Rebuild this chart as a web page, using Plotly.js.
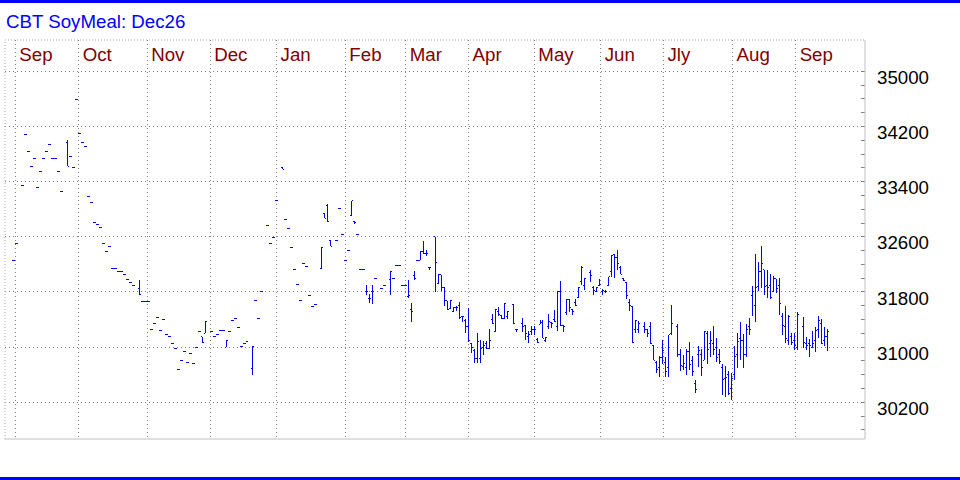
<!DOCTYPE html>
<html>
<head>
<meta charset="utf-8">
<script src="https://cdn.plot.ly/plotly-3.0.1.min.js"></script>
<style>html,body{margin:0;padding:0;background:#fff;}#chart{width:960px;height:480px;}
.ohlc path{shape-rendering:crispEdges;}</style>
</head>
<body>
<div id="chart"></div>
<script>
// x = weekday slot index (0 = first slot of Sep 2025)
const monthLabels = ["Sep","Oct","Nov","Dec","Jan","Feb","Mar","Apr","May","Jun","Jly","Aug","Sep"];
const monthPos = [-0.5, 20.7, 43.6, 64.7, 86.9, 109.9, 130.1, 151.1, 173.1, 195.3, 216.3, 239.4, 260.5];

// single-price days (open = high = low = close)
const dashDay = [
  -1,0,2,3,4,5,6,7,8,9,
  10,11,12,13,14,15,18,19,20,21,
  22,23,24,25,26,27,28,29,30,31,
  32,33,34,35,36,37,38,39,42,43,
  44,45,46,47,48,49,50,51,52,53,
  54,55,56,57,58,59,60,61,65,66,
  67,68,69,71,72,73,74,75,76,77,
  80,81,82,84,85,86,87,90,91,92,
  93,94,95,96,97,98,99,100,107,108,
  109,110,111,114,115,116,120,122,123,126,
  127,128,129,130,134];
const dashPrice = [
  32260,32500,33350,34090,33830,33620,33730,33310,33540,33730,
  33830,33940,33730,33730,33540,33250,33770,33600,34590,34100,
  33970,33910,33180,33100,32810,32780,32740,32510,32380,32460,
  32140,32140,32090,32090,32060,31980,31940,31900,31660,31660,
  31660,31260,31350,31430,31240,31400,31190,31160,31050,30980,
  30670,30800,30930,30780,30910,30770,30990,31230,31220,31160,
  31190,31240,31240,31220,31380,31410,31280,31010,31060,31080,
  31680,31420,31810,32770,32510,32590,33120,32850,32720,32450,
  32130,31910,31670,32220,32170,31750,31590,31620,32540,33010,
  32640,32250,32400,32640,32120,32120,32000,31850,31890,32000,
  32190,32190,31890,31890,32250];

// days with a trading range
const barDay = [
  17,41,62,63,70,79,89,102,103,104,
  105,112,113,117,118,119,125,131,132,133,
  135,136,137,138,140,141,142,143,144,145,
  146,147,148,149,150,151,152,153,154,155,
  156,157,158,159,160,161,162,163,164,166,
  167,169,170,171,172,173,174,175,176,177,
  178,179,180,181,182,183,184,185,186,187,
  188,189,190,192,193,194,195,196,197,198,
  199,200,201,202,203,204,205,206,207,208,
  210,211,212,213,214,215,216,217,218,219,
  221,222,223,224,225,226,227,228,229,230,
  231,232,233,234,235,236,237,238,239,240,
  241,242,243,244,245,246,247,248,249,250,
  251,252,253,254,255,256,257,258,259,260,
  261,263,264,265,266,267,268,269,270,271];
const barOpen = [
  33970,31850,31150,31200,31000,30690,33600,32140,32940,33050,
  32540,32910,32820,31810,31700,31800,31980,31740,31550,32040,
  32260,32380,32360,32150,32600,31920,32050,31870,31670,31560,
  31510,31580,31600,31440,31390,31300,31060,30950,30840,30840,
  30990,31060,30980,31400,31220,31520,31460,31410,31450,31620,
  31250,31340,31320,31150,31220,31250,31110,31330,31380,31100,
  31300,31360,31400,31300,31800,31310,31500,31690,31540,31650,
  31720,31950,31900,32080,31870,31810,31900,31800,31800,31900,
  32100,32350,32300,32150,31990,31940,31650,31590,31250,31250,
  31300,31260,31300,31020,30780,30700,30850,30780,30700,31200,
  31300,30900,30720,30700,30940,30800,30480,30890,30900,30810,
  31200,31050,31050,31000,30900,30700,30550,30600,30400,30600,
  30900,31120,31100,30900,31300,31750,31600,31880,32100,32120,
  31900,31900,31800,31990,31900,31450,31300,31100,31150,31100,
  31000,31300,31050,31050,31000,31100,31250,31350,31100,31150];
const barHigh = [
  34000,31970,31150,31370,31090,31010,33600,32450,32940,33080,
  32540,33120,32830,31900,31770,31900,32100,31970,31640,32110,
  32380,32540,32410,32150,32600,32060,32050,31870,31670,31680,
  31580,31600,31650,31440,31410,31570,31060,30980,31210,31100,
  31090,31090,31270,31480,31540,31580,31460,31640,31510,31620,
  31250,31420,31320,31230,31300,31300,31130,31400,31380,31140,
  31480,31370,31540,31810,31960,31310,31700,31690,31540,31700,
  31870,32170,32000,32120,31890,31870,31990,31840,31830,32020,
  32340,32350,32410,32170,31990,31940,31700,31590,31400,31380,
  31360,31260,31360,31020,30800,30870,31110,30860,31180,31610,
  31340,30970,30890,30980,31080,30870,30520,31020,30980,31230,
  31230,31240,31310,31130,30980,30760,30730,30650,30630,31010,
  31200,31360,31190,31330,31420,31880,32350,32240,32460,32120,
  32120,32060,32030,31990,32010,31500,31590,31470,31200,31200,
  31510,31430,31140,31120,31240,31290,31450,31410,31290,31270];
const barLow = [
  33620,31770,31060,31200,31000,30600,33580,32140,32870,32820,
  32460,32910,32790,31760,31640,31620,31760,31710,31370,31980,
  32260,32360,32320,32120,31800,31920,31810,31590,31540,31560,
  31510,31520,31410,31370,31200,31080,30910,30770,30770,30770,
  30890,30980,30980,31340,31220,31450,31410,31410,31410,31340,
  31220,31220,31110,31060,31180,31180,31060,31330,31130,31070,
  31270,31280,31360,31240,31310,31220,31470,31510,31470,31590,
  31710,31900,31830,31950,31760,31810,31880,31760,31780,31900,
  32020,32010,32120,32060,31960,31700,31520,31060,31200,31200,
  31210,31140,31050,30810,30630,30560,30760,30570,30570,31180,
  30860,30660,30670,30600,30670,30580,30340,30710,30580,30810,
  30760,30860,30890,30790,30760,30300,30270,30300,30230,30520,
  30700,30820,30700,30850,31180,31450,31360,31810,31860,31760,
  31710,31700,31800,31790,31460,31180,31060,31030,31030,30960,
  30960,30990,30960,30850,30990,30930,31130,31060,31020,30950];
const barClose = [
  33620,31770,31070,31370,31090,31010,33580,32450,32870,32820,
  32460,33120,32810,31810,31700,31800,32100,31750,31510,32000,
  32380,32360,32360,32150,32230,32060,31870,31670,31540,31680,
  31580,31580,31430,31440,31300,31100,30990,30840,31080,30980,
  31020,30980,31090,31340,31540,31470,31410,31640,31510,31340,
  31250,31300,31200,31180,31250,31250,31070,31360,31130,31140,
  31370,31350,31370,31800,31320,31300,31690,31570,31520,31600,
  31860,32160,32000,32040,31820,31870,31910,31820,31800,32020,
  32330,32300,32220,32060,31970,31750,31610,31070,31380,31350,
  31260,31200,31050,30810,30680,30850,30950,30650,31180,31340,
  30900,30740,30760,30940,30750,30650,30390,30950,30710,31230,
  30960,31100,30960,30850,30790,30530,30560,30330,30550,30870,
  31080,31100,30890,31260,31250,31800,31870,32100,32210,31880,
  31860,31720,31990,31850,31640,31320,31120,31450,31070,31030,
  31480,31070,31030,31030,31060,31240,31380,31060,31160,31220];

const priceTickStart = 30200, priceTickStep = 800;

const FONT = "'Liberation Sans', Arial, sans-serif";
const BLUE = '#0000ff';
const barStyle = {line: {color: BLUE, width: 1}};

const traces = [
  {type: 'ohlc', x: dashDay, open: dashPrice, high: dashPrice, low: dashPrice, close: dashPrice,
   increasing: barStyle, decreasing: barStyle, tickwidth: 0.5, hoverinfo: 'skip', showlegend: false},
  {type: 'ohlc', x: barDay, open: barOpen, high: barHigh, low: barLow, close: barClose,
   increasing: barStyle, decreasing: barStyle, tickwidth: 0.5, hoverinfo: 'skip', showlegend: false}
];

const layout = {
  width: 960, height: 480,
  paper_bgcolor: '#ffffff', plot_bgcolor: '#ffffff',
  margin: {l: 5, r: 95, t: 40, b: 41, pad: 0},
  showlegend: false,
  title: {text: 'CBT SoyMeal: Dec26', font: {family: FONT, size: 18.7, color: BLUE},
          x: 6/960, xref: 'container', xanchor: 'left', y: 1 - 21/480, yref: 'container', yanchor: 'middle'},
  xaxis: {
    type: 'linear', range: [-3.94, 283.7], side: 'top', fixedrange: true,
    tickmode: 'array', tickvals: monthPos, ticktext: monthLabels,
    ticks: '', ticklabelposition: 'inside right', ticklabelshift: 4, ticklabelstandoff: 2,
    tickfont: {family: FONT, size: 18.7, color: '#800000'},
    showgrid: true, gridcolor: '#808080', gridwidth: 1, griddash: '1px,3px',
    zeroline: false, showline: false,
    rangeslider: {visible: false}
  },
  yaxis: {
    side: 'right', range: [29668, 35454], fixedrange: true,
    tickmode: 'linear', tick0: priceTickStart, dtick: priceTickStep, tickformat: 'd',
    ticks: 'inside', ticklen: 4, tickcolor: '#808080',
    minor: {dtick: 200, tick0: priceTickStart, ticks: 'inside', ticklen: 4, tickcolor: '#808080', showgrid: false},
    ticklabelstandoff: 11, ticklabelshift: 6,
    tickfont: {family: FONT, size: 18.7, color: '#000000'},
    showgrid: true, gridcolor: '#808080', gridwidth: 1, griddash: '1px,3px',
    zeroline: false, showline: false
  },
  shapes: [
    {type: 'rect', xref: 'paper', yref: 'paper', x0: -0.02, x1: 1.12, y0: (439-3)/399, y1: (439+2)/399,
     fillcolor: BLUE, line: {width: 0}, layer: 'above'},
    {type: 'rect', xref: 'paper', yref: 'paper', x0: -0.02, x1: 1.12, y0: (439-483)/399, y1: (439-477)/399,
     fillcolor: BLUE, line: {width: 0}, layer: 'above'},
    {type: 'line', xref: 'paper', yref: 'paper', x0: 1, x1: 1, y0: 0, y1: 1, line: {color: '#c0c0c0', width: 1}},
    {type: 'line', xref: 'paper', yref: 'paper', x0: 0, x1: 1, y0: 0, y1: 0, line: {color: '#c0c0c0', width: 1}},
    {type: 'line', xref: 'paper', yref: 'paper', x0: 0, x1: 1, y0: 1, y1: 1, line: {color: '#a8a8a8', width: 1, dash: '1px,2px'}},
    {type: 'line', xref: 'paper', yref: 'paper', x0: 0, x1: 0, y0: 0, y1: 1, line: {color: '#a8a8a8', width: 1, dash: '1px,2px'}}
  ]
};

Plotly.newPlot('chart', traces, layout, {displayModeBar: false, staticPlot: true}).then(function (gd) {
  gd.querySelectorAll('.ohlc path').forEach(function (p) { p.style.shapeRendering = 'crispEdges'; });
});
</script>
</body>
</html>
